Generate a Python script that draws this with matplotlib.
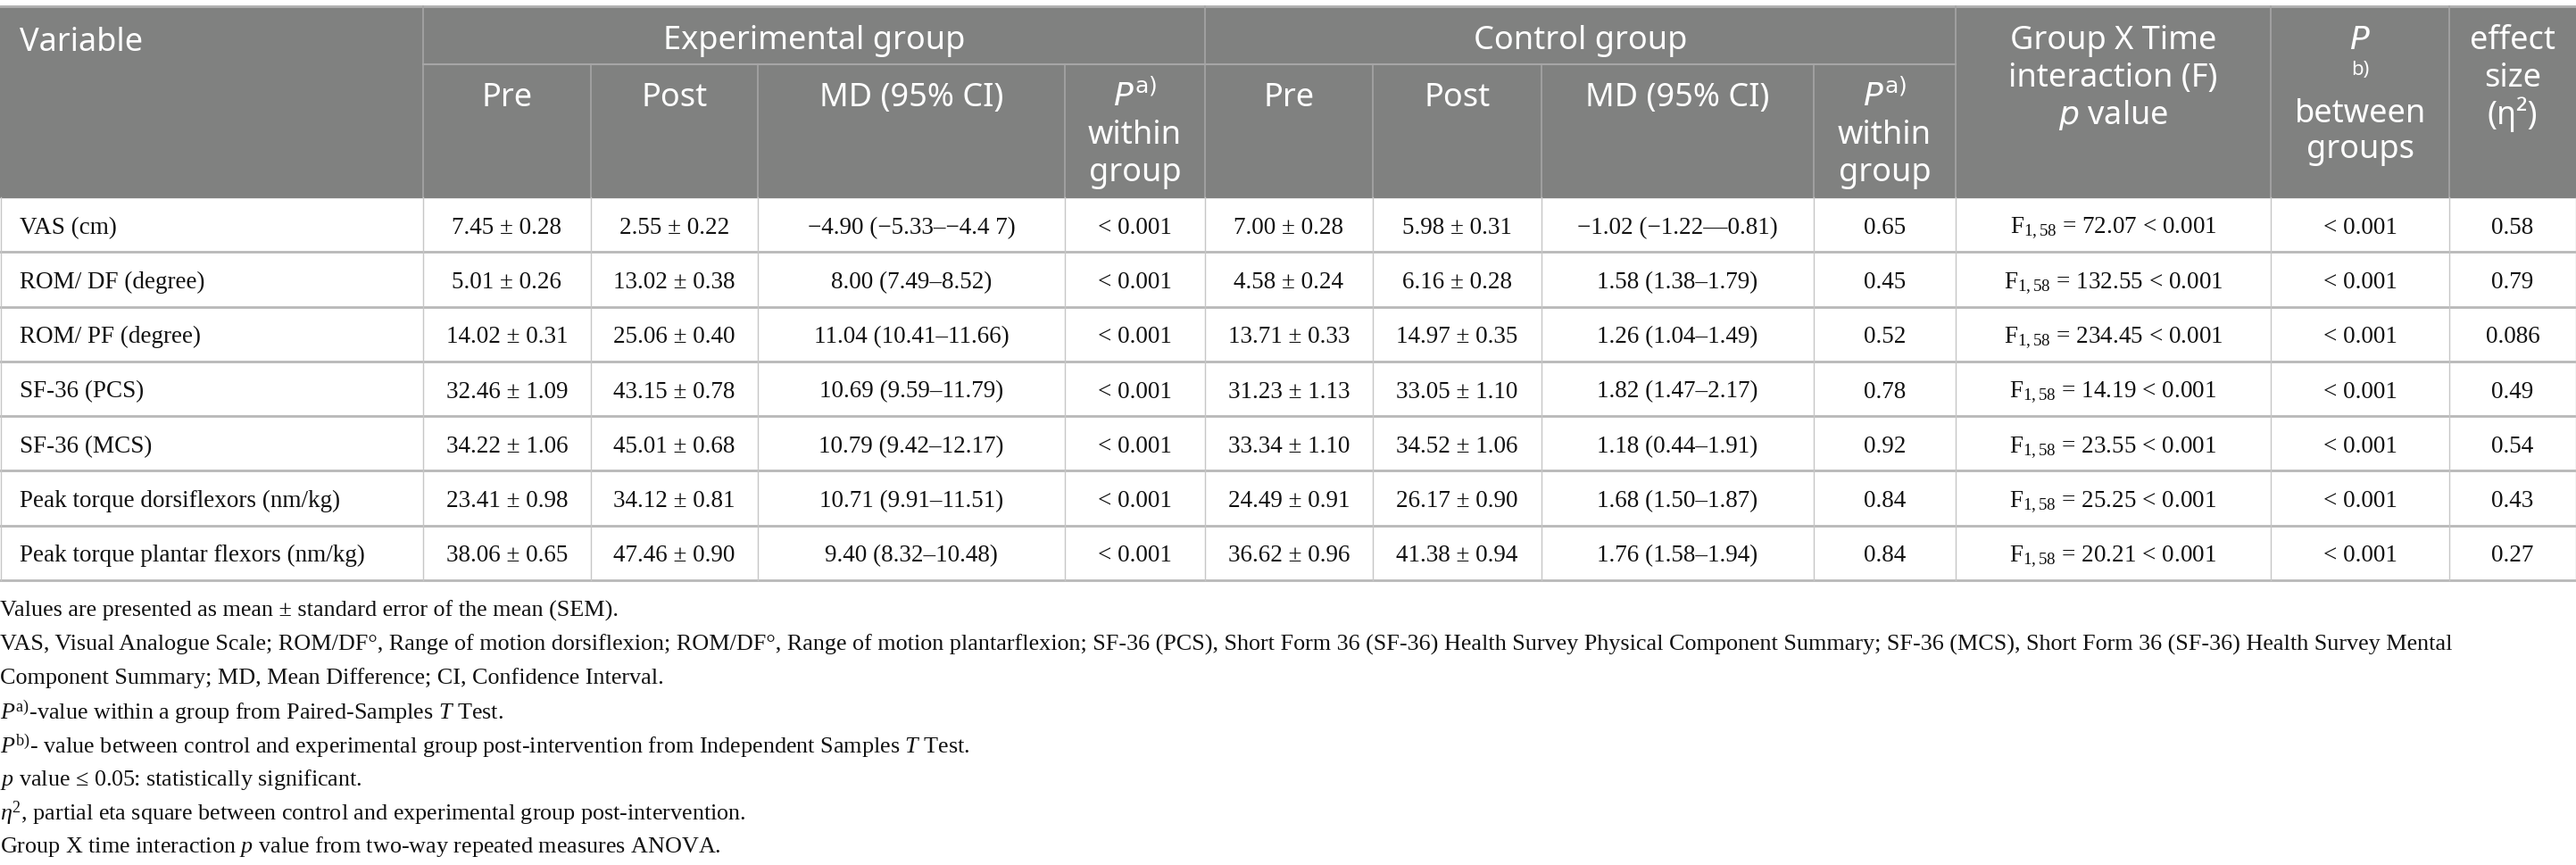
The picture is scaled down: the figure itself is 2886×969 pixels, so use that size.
import matplotlib
matplotlib.use("Agg")
import matplotlib.pyplot as plt
from matplotlib.patches import Rectangle

plt.rcParams['mathtext.fontset'] = 'custom'
plt.rcParams['mathtext.rm'] = 'Liberation Serif'
plt.rcParams['mathtext.it'] = 'Liberation Serif:italic'
plt.rcParams['mathtext.bf'] = 'Liberation Serif:bold'

# table data
variables = ["VAS (cm)", "ROM/ DF (degree)", "ROM/ PF (degree)", "SF-36 (PCS)",
             "SF-36 (MCS)", "Peak torque dorsiflexors (nm/kg)", "Peak torque plantar flexors (nm/kg)"]
exp_pre_mean = [7.45, 5.01, 14.02, 32.46, 34.22, 23.41, 38.06]
exp_pre_sem = [0.28, 0.26, 0.31, 1.09, 1.06, 0.98, 0.65]
exp_post_mean = [2.55, 13.02, 25.06, 43.15, 45.01, 34.12, 47.46]
exp_post_sem = [0.22, 0.38, 0.40, 0.78, 0.68, 0.81, 0.90]
exp_md = ["\u22124.90 (\u22125.33\u2013\u22124.4 7)", "8.00 (7.49\u20138.52)", "11.04 (10.41\u201311.66)",
          "10.69 (9.59\u201311.79)", "10.79 (9.42\u201312.17)", "10.71 (9.91\u201311.51)", "9.40 (8.32\u201310.48)"]
exp_p = ["< 0.001"] * 7
ctl_pre_mean = [7.00, 4.58, 13.71, 31.23, 33.34, 24.49, 36.62]
ctl_pre_sem = [0.28, 0.24, 0.33, 1.13, 1.10, 0.91, 0.96]
ctl_post_mean = [5.98, 6.16, 14.97, 33.05, 34.52, 26.17, 41.38]
ctl_post_sem = [0.31, 0.28, 0.35, 1.10, 1.06, 0.90, 0.94]
ctl_md = ["\u22121.02 (\u22121.22\u20140.81)", "1.58 (1.38\u20131.79)", "1.26 (1.04\u20131.49)",
          "1.82 (1.47\u20132.17)", "1.18 (0.44\u20131.91)", "1.68 (1.50\u20131.87)", "1.76 (1.58\u20131.94)"]
ctl_p = ["0.65", "0.45", "0.52", "0.78", "0.92", "0.84", "0.84"]
f_values = ["72.07", "132.55", "234.45", "14.19", "23.55", "25.25", "20.21"]
p_between = ["< 0.001"] * 7
effect_size = ["0.58", "0.79", "0.086", "0.49", "0.54", "0.43", "0.27"]

footnotes = [
    "Values are presented as mean \u00b1 standard error of the mean (SEM).",
    "VAS, Visual Analogue Scale; ROM/DF\u00b0, Range of motion dorsiflexion; ROM/DF\u00b0, Range of motion plantarflexion; "
    "SF-36 (PCS), Short Form 36 (SF-36) Health Survey Physical Component Summary; SF-36 (MCS), Short Form 36 (SF-36) Health Survey Mental",
    "Component Summary; MD, Mean Difference; CI, Confidence Interval.",
    r"$P^{\mathrm{a)}}$-value within a group from Paired-Samples $T$ Test.",
    r"$P^{\mathrm{b)}}$- value between control and experimental group post-intervention from Independent Samples $T$ Test.",
    "$p$ value \u2264 0.05: statistically significant.",
    r"$\eta^{2}$, partial eta square between control and experimental group post-intervention.",
    "Group X time interaction $p$ value from two-way repeated measures ANOVA.",
]

# layout (pixels)
W, H = 2886, 970
col_edges = [0, 474, 662, 849, 1193, 1350, 1538, 1727, 2032, 2191, 2544, 2744, 2886]
top, mid_line, head_bot = 8, 73, 222
row_h = (651 - head_bot) / 7
head_col = "#808180"
serif = "Liberation Serif"
sans = "Noto Sans"

fig = plt.figure(figsize=(W / 100, H / 100), dpi=100)
ax = fig.add_axes([0, 0, 1, 1])
ax.set_xlim(0, W)
ax.set_ylim(H, 0)
ax.axis("off")

# header background
ax.add_patch(Rectangle((0, top), W, head_bot - top, color=head_col, zorder=0))
ax.plot([0, W], [top, top], color="#b0b0b0", lw=2)
ax.plot([col_edges[1], col_edges[9]], [mid_line, mid_line], color="#a6a6a6", lw=1.5)
for i, x in enumerate(col_edges[1:-1], start=1):
    y0 = top if i in (1, 5, 9, 10, 11) else mid_line
    ax.plot([x, x], [y0, head_bot], color="#a6a6a6", lw=1.2)

hs = 26
def htext(x, y, s, **kw):
    ax.text(x, y, s, color="white", fontsize=hs, family=sans, ha="center", va="baseline",
            math_fontfamily="dejavusans", **kw)

def cx(i):
    return (col_edges[i] + col_edges[i + 1]) / 2

ax.text(22, 57, "Variable", color="white", fontsize=hs, family=sans, va="baseline")
htext((col_edges[1] + col_edges[5]) / 2, 55, "Experimental group")
htext((col_edges[5] + col_edges[9]) / 2, 55, "Control group")
for off in (1, 5):
    htext(cx(off), 119, "Pre")
    htext(cx(off + 1), 119, "Post")
    htext(cx(off + 2), 119, "MD (95% CI)")
    htext(cx(off + 3), 119, r"$P^{\mathrm{a)}}$")
    htext(cx(off + 3), 161, "within")
    htext(cx(off + 3), 203, "group")
htext(cx(9), 55, "Group X Time")
htext(cx(9), 97, "interaction (F)")
htext(cx(9), 139, "$p$ value")
htext(cx(10), 55, "$P$")
ax.text(cx(10), 84, "b)", color="white", fontsize=16, family=sans, ha="center", va="baseline")
htext(cx(10), 137, "between")
htext(cx(10), 177, "groups")
htext(cx(11), 55, "effect")
htext(cx(11), 97, "size")
htext(cx(11), 139, "(\u03b7\u00b2)")

# body
bs = 19.5
for r in range(len(variables)):
    y_top = head_bot + r * row_h
    yb = y_top + row_h / 2 + 9
    cells = [
        f"{exp_pre_mean[r]:.2f} \u00b1 {exp_pre_sem[r]:.2f}",
        f"{exp_post_mean[r]:.2f} \u00b1 {exp_post_sem[r]:.2f}",
        exp_md[r], exp_p[r],
        f"{ctl_pre_mean[r]:.2f} \u00b1 {ctl_pre_sem[r]:.2f}",
        f"{ctl_post_mean[r]:.2f} \u00b1 {ctl_post_sem[r]:.2f}",
        ctl_md[r], ctl_p[r],
        r"$\mathrm{F}_{1,58}$" + f" = {f_values[r]} < 0.001",
        p_between[r], effect_size[r],
    ]
    ax.text(22, yb, variables[r], fontsize=bs, family=serif, va="baseline", color="#111111")
    for c, s in enumerate(cells):
        ax.text(cx(c + 1), yb, s, fontsize=bs, family=serif, ha="center", va="baseline", color="#111111")
    y_bot = y_top + row_h
    ax.plot([0, W], [y_bot, y_bot], color="#b8b8b8", lw=2)

for x in col_edges[1:-1]:
    ax.plot([x, x], [head_bot, 651], color="#c6c6c6", lw=1)
ax.plot([0.5, 0.5], [head_bot, 651], color="#c6c6c6", lw=1)
ax.plot([W - 0.5, W - 0.5], [head_bot, 651], color="#c6c6c6", lw=1)

# footnotes
fs = 18.8
for k, s in enumerate(footnotes):
    ax.text(0, 682 + k * 37.6, s, fontsize=fs, family=serif, va="center_baseline", color="#111111")

fig.savefig("out.png", dpi=100)
